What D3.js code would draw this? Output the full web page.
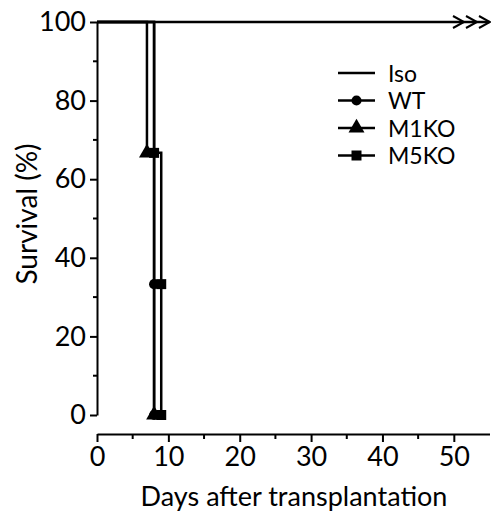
<!DOCTYPE html>
<html>
<head>
<meta charset="utf-8">
<script src="https://cdn.jsdelivr.net/npm/d3@7"></script>
<style>
  body { margin: 0; background: #fff; }
  text { font-family: Lato, "Open Sans", sans-serif; fill: #000; }
</style>
</head>
<body>
<svg id="chart" width="491" height="515"></svg>
<script>
/* data */
const isoDays = [0, 55];
const isoSurv = [100, 100];
const wtDays = [0, 8, 8];
const wtSurv = [100, 33.3, 0];
const m1Days = [0, 7, 8];
const m1Surv = [100, 66.7, 0];
const m5Days = [0, 8, 9, 9];
const m5Surv = [100, 66.7, 33.3, 0];
const xTicks = [0, 10, 20, 30, 40, 50];
const yTicks = [0, 20, 40, 60, 80, 100];
const legendNames = ["Iso", "WT", "M1KO", "M5KO"];

const svg = d3.select("#chart");

const x = d3.scaleLinear().domain([0, 55]).range([97, 489.5]);
const y = d3.scaleLinear().domain([0, 100]).range([415, 22]);

/* y axis */
const yAxis = d3.axisLeft(y)
    .tickValues(yTicks)
    .tickSize(7)
    .tickSizeOuter(0)
    .tickPadding(4);

svg.append("g")
    .attr("class", "yAxis")
    .attr("transform", "translate(97,0)")
    .call(yAxis)
    .call(g => g.select(".domain").attr("stroke-width", 2))
    .call(g => g.selectAll(".tick line").attr("stroke-width", 2))
    .call(g => g.selectAll(".tick text").style("font-size", "27px"));

// minor y ticks
svg.selectAll(".yMinor")
    .data(d3.range(10, 100, 20))
    .enter()
    .append("line")
    .attr("class", "yMinor")
    .attr("x1", 93).attr("x2", 97)
    .attr("y1", d => y(d)).attr("y2", d => y(d))
    .attr("stroke", "#000")
    .attr("stroke-width", 2);

/* x axis, drawn apart from the y axis */
const xAxis = d3.axisBottom(x)
    .tickValues(xTicks)
    .tickSize(8)
    .tickSizeOuter(0)
    .tickPadding(5);

svg.append("g")
    .attr("class", "xAxis")
    .attr("transform", "translate(0,434)")
    .call(xAxis)
    .call(g => g.select(".domain").attr("stroke-width", 2))
    .call(g => g.selectAll(".tick line").attr("stroke-width", 2))
    .call(g => g.selectAll(".tick text").style("font-size", "27px"));

svg.selectAll(".xMinor")
    .data(d3.range(5, 55, 10))
    .enter()
    .append("line")
    .attr("class", "xMinor")
    .attr("x1", d => x(d)).attr("x2", d => x(d))
    .attr("y1", 434).attr("y2", 439)
    .attr("stroke", "#000")
    .attr("stroke-width", 2);

/* axis labels */
svg.append("text")
    .attr("x", 294)
    .attr("y", 506)
    .attr("text-anchor", "middle")
    .style("font-size", "27px")
    .text("Days after transplantation");

svg.append("text")
    .attr("transform", "translate(37,214) rotate(-90)")
    .attr("text-anchor", "middle")
    .style("font-size", "28px")
    .text("Survival (%)");

/* step curves */
const step = d3.line()
    .x(d => x(d[0]))
    .y(d => y(d[1]))
    .curve(d3.curveStepAfter);

const series = [
    { name: "Iso", pts: d3.zip(isoDays, isoSurv), marker: null },
    { name: "WT", pts: d3.zip(wtDays, wtSurv), marker: d3.symbolCircle, size: 80 },
    { name: "M1KO", pts: d3.zip(m1Days, m1Surv), marker: d3.symbolTriangle, size: 110 },
    { name: "M5KO", pts: d3.zip(m5Days, m5Surv), marker: d3.symbolSquare, size: 100 }
];

series.forEach(s => {
    svg.append("path")
        .attr("d", step(s.pts))
        .attr("fill", "none")
        .attr("stroke", "#000")
        .attr("stroke-width", 2.5);
});

series.filter(s => s.marker).forEach(s => {
    svg.selectAll(null)
        .data(s.pts.filter(p => p[0] > 0))
        .enter()
        .append("path")
        .attr("transform", d => "translate(" + x(d[0]) + "," + y(d[1]) + ")")
        .attr("d", d3.symbol().type(s.marker).size(s.size))
        .attr("fill", "#000");
});

/* censor arrows at the end of Iso line */
svg.selectAll(".chev")
    .data([0, 1, 2])
    .enter()
    .append("path")
    .attr("class", "chev")
    .attr("d", i => {
        const x0 = 453 + i * 13;
        return "M" + x0 + "," + 16 + "L" + (x0 + 11) + "," + 22 + "L" + x0 + "," + 28;
    })
    .attr("fill", "none")
    .attr("stroke", "#000")
    .attr("stroke-width", 2);

/* legend */
const legend = svg.append("g").attr("transform", "translate(338,73)");
legendNames.forEach((name, i) => {
    const s = series[i];
    const row = legend.append("g").attr("transform", "translate(0," + (i * 27.5) + ")");
    row.append("line")
        .attr("x1", 0).attr("x2", 37)
        .attr("stroke", "#000")
        .attr("stroke-width", 2.5);
    if (s.marker) {
        row.append("path")
            .attr("transform", "translate(18.5,0)")
            .attr("d", d3.symbol().type(s.marker).size(s.size))
            .attr("fill", "#000");
    }
    row.append("text")
        .attr("x", 50)
        .attr("y", 8.5)
        .style("font-size", "23px")
        .text(name);
});
</script>
</body>
</html>
